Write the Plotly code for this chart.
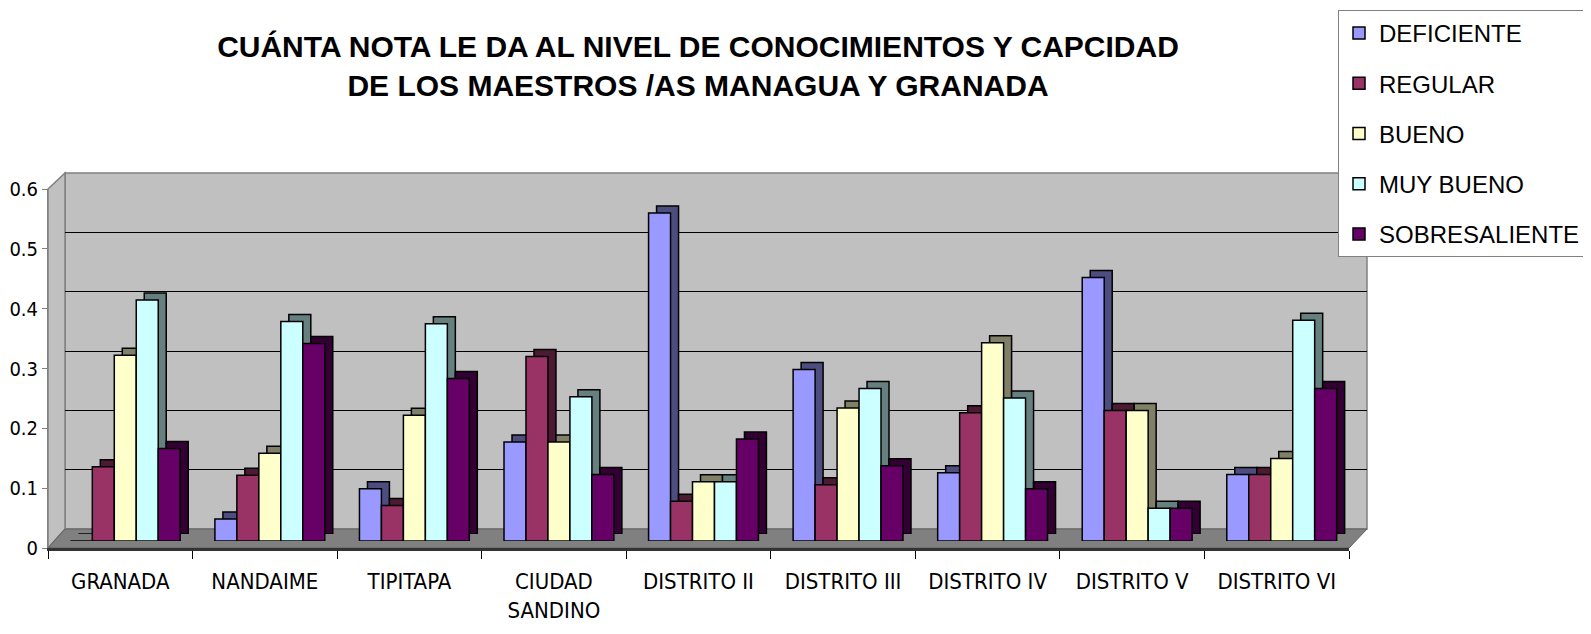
import plotly.graph_objects as go

# ---------------- data ----------------
categories = ["GRANADA", "NANDAIME", "TIPITAPA", "CIUDAD<br>SANDINO", "DISTRITO II",
              "DISTRITO III", "DISTRITO IV", "DISTRITO V", "DISTRITO VI"]
series_names = ["DEFICIENTE", "REGULAR", "BUENO", "MUY BUENO", "SOBRESALIENTE"]
deficiente = [0.0, 0.037, 0.088, 0.167, 0.553, 0.289, 0.115, 0.444, 0.112]
regular = [0.125, 0.111, 0.060, 0.311, 0.067, 0.095, 0.216, 0.220, 0.112]
bueno = [0.313, 0.148, 0.212, 0.167, 0.100, 0.224, 0.334, 0.220, 0.139]
muy_bueno = [0.406, 0.370, 0.366, 0.243, 0.100, 0.257, 0.241, 0.055, 0.372]
sobresaliente = [0.156, 0.333, 0.274, 0.112, 0.172, 0.127, 0.088, 0.055, 0.257]
series_values = [deficiente, regular, bueno, muy_bueno, sobresaliente]
y_ticks = [0, 0.1, 0.2, 0.3, 0.4, 0.5, 0.6]

# ---------------- styles ----------------
face_colors = ["#9999FF", "#993366", "#FFFFCC", "#CCFFFF", "#660066"]
side_colors = ["#4D4D80", "#4D1A33", "#808066", "#668080", "#330033"]
title_text = "CUÁNTA NOTA LE DA AL NIVEL DE CONOCIMIENTOS Y CAPCIDAD<br>DE LOS MAESTROS /AS MANAGUA Y GRANADA"

W, H = 1591, 634
PAGE_OFFSET = 8  # default body margin of the html page
NARROW = "Liberation Sans Narrow, Arial Narrow, DejaVu Sans Condensed, sans-serif"
SANS = "Liberation Sans, Arial, sans-serif"


def fx(p):
    return (p - PAGE_OFFSET) / W


def fy(p):
    return 1 - (p - PAGE_OFFSET) / H


# pixel geometry (page pixels) of the pseudo-3D box
FRONT = dict(x0=48, x1=1349, ybot=548, ytop=189)
BACK = dict(x0=65, x1=1367, ybot=529, ytop=173)
BARS = dict(x0=53, x1=1354, ybot=541, ytop=185)
DEPTH_X, DEPTH_Y = 8, 7

fig = go.Figure()

# subplot 1: back wall gridlines
fig.add_trace(go.Scatter(x=categories, y=[0] * len(categories), mode="markers",
                         marker=dict(opacity=0), hoverinfo="skip", showlegend=False,
                         xaxis="x", yaxis="y"))
# subplot 2: front axes (labels)
fig.add_trace(go.Scatter(x=categories, y=[0] * len(categories), mode="markers",
                         marker=dict(opacity=0), hoverinfo="skip", showlegend=False,
                         xaxis="x2", yaxis="y2"))
# subplot 3: bar depth (side/top faces)
for name, vals, col in zip(series_names, series_values, side_colors):
    fig.add_trace(go.Bar(x=categories, y=vals, name=name, marker=dict(color=col, line=dict(color="black", width=1.5)),
                         showlegend=False, hoverinfo="skip", xaxis="x3", yaxis="y3"))
# subplot 4: bar front faces
for name, vals, col in zip(series_names, series_values, face_colors):
    fig.add_trace(go.Bar(x=categories, y=vals, name=name, legendgroup=name,
                         marker=dict(color=col, line=dict(color="black", width=1.5)),
                         xaxis="x4", yaxis="y4"))

hidden = dict(showgrid=False, zeroline=False, showticklabels=False, ticks="", showline=False)
cat_range = [-0.5, len(categories) - 0.5]

fig.update_layout(
    width=W, height=H,
    margin=dict(l=0, r=0, t=0, b=0, autoexpand=False),
    paper_bgcolor="white",
    plot_bgcolor="rgba(0,0,0,0)",
    barmode="group", bargap=0.24, bargroupgap=0,
    title=dict(text=title_text, x=fx(698), xanchor="center", y=fy(57), yanchor="middle",
               font=dict(family=SANS, size=30, color="black", weight="bold")),
    xaxis=dict(domain=[fx(BACK["x0"]), fx(BACK["x1"])], range=cat_range, **hidden),
    yaxis=dict(domain=[fy(BACK["ybot"]), fy(BACK["ytop"])], range=[0, 0.6], tickvals=y_ticks,
               showgrid=True, gridcolor="#000000", gridwidth=1, zeroline=False,
               showticklabels=False, ticks="", showline=False),
    xaxis2=dict(domain=[fx(FRONT["x0"]), fx(FRONT["x1"])], range=cat_range, anchor="y2",
                showgrid=False, zeroline=False, tickson="boundaries", ticks="outside", ticklen=8,
                tickcolor="black", showline=True, linecolor="#333333", linewidth=3,
                ticklabelstandoff=12,
                tickfont=dict(family=NARROW, size=22, color="black")),
    yaxis2=dict(domain=[fy(FRONT["ybot"]), fy(FRONT["ytop"])], range=[0, 0.6], anchor="x2",
                tickvals=y_ticks, showgrid=False, zeroline=False, ticks="outside", ticklen=5,
                tickcolor="#808080", showline=True, linecolor="#808080", linewidth=1,
                ticklabelstandoff=0,
                tickfont=dict(family=NARROW, size=20, color="black")),
    xaxis3=dict(domain=[fx(BARS["x0"] + DEPTH_X), fx(BARS["x1"] + DEPTH_X)], range=cat_range,
                anchor="y3", **hidden),
    yaxis3=dict(domain=[fy(BARS["ybot"] - DEPTH_Y), fy(BARS["ytop"] - DEPTH_Y)], range=[0, 0.6],
                anchor="x3", **hidden),
    xaxis4=dict(domain=[fx(BARS["x0"]), fx(BARS["x1"])], range=cat_range, anchor="y4", **hidden),
    yaxis4=dict(domain=[fy(BARS["ybot"]), fy(BARS["ytop"])], range=[0, 0.6], anchor="x4", **hidden),
    legend=dict(x=fx(1338), y=fy(10), xanchor="left", yanchor="top",
                bgcolor="white", bordercolor="#808080", borderwidth=1,
                font=dict(family=SANS, size=24, color="black"),
                tracegroupgap=16, traceorder="grouped", itemwidth=30),
)

# pseudo-3D walls (decoration, derived from the axis geometry)
def poly(pts):
    return "M " + " L ".join(f"{fx(px)},{fy(py)}" for px, py in pts) + " Z"

shapes = [
    dict(type="path", xref="paper", yref="paper", layer="below",
         path=poly([(BACK["x0"], BACK["ytop"]), (BACK["x1"], BACK["ytop"]),
                    (BACK["x1"], BACK["ybot"]), (BACK["x0"], BACK["ybot"])]),
         fillcolor="#C0C0C0", line=dict(color="#808080", width=1.5)),
    dict(type="path", xref="paper", yref="paper", layer="below",
         path=poly([(FRONT["x0"], FRONT["ytop"]), (BACK["x0"], BACK["ytop"]),
                    (BACK["x0"], BACK["ybot"]), (FRONT["x0"], FRONT["ybot"])]),
         fillcolor="#C0C0C0", line=dict(color="#808080", width=1.5)),
    dict(type="path", xref="paper", yref="paper", layer="below",
         path=poly([(FRONT["x0"], FRONT["ybot"]), (BACK["x0"], BACK["ybot"]),
                    (BACK["x1"], BACK["ybot"]), (FRONT["x1"], FRONT["ybot"])]),
         fillcolor="#808080", line=dict(color="#606060", width=1)),
]
fig.update_layout(shapes=shapes)

fig.write_html("out.html")
